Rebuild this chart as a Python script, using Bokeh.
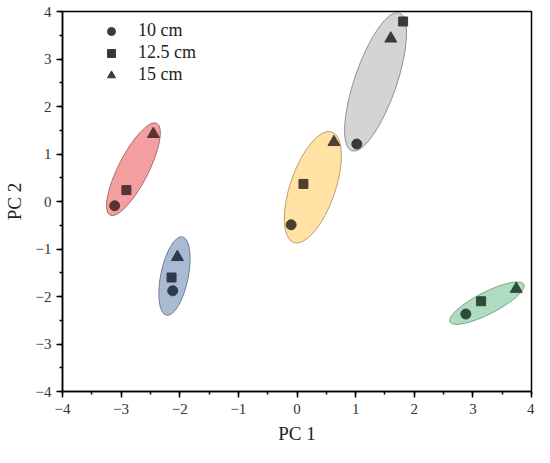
import math
from bokeh.plotting import figure
from bokeh.models import (ColumnDataSource, Range1d, SingleIntervalTicker, Legend, LegendItem)
from bokeh.embed import file_html
from bokeh.resources import INLINE

# ---- data ----
pc1_10cm = [-3.11, -2.12, -0.10, 1.02, 2.88]
pc2_10cm = [-0.09, -1.88, -0.49, 1.21, -2.37]
pc1_12_5cm = [-2.91, -2.14, 0.11, 1.81, 3.14]
pc2_12_5cm = [0.24, -1.60, 0.37, 3.79, -2.10]
pc1_15cm = [-2.45, -2.04, 0.63, 1.60, 3.74]
pc2_15cm = [1.42, -1.17, 1.25, 3.43, -1.84]

# confidence ellipses per group (center in data units, axes in screen px, angle in degrees)
ell_x = [-2.79, -2.09, 0.27, 1.34, 3.24]
ell_y = [0.68, -1.57, 0.30, 2.52, -2.14]
ell_long = [103, 80, 117, 146, 83]
ell_short = [30, 27.5, 45, 42, 22]
ell_angle = [63, 78.5, 71, 71, 27]

group_fill = ["#F4A0A0", "#A9BAD3", "#FFE2A4", "#D4D4D4", "#AEDCC0"]
group_edge = ["#A86C6C", "#6E7E98", "#B8A070", "#909090", "#78A88A"]
group_marker = ["#5C3232", "#2F3A4C", "#4D4030", "#3A3A3A", "#2D4A3A"]

series_labels = ["10 cm", "12.5 cm", "15 cm"]
tick_values = [-4, -3, -2, -1, 0, 1, 2, 3, 4]
tick_labels = ["\u22124", "\u22123", "\u22122", "\u22121", "0", "1", "2", "3", "4"]

FONT = "Liberation Serif"

p = figure(width=534, height=447, output_backend="svg", toolbar_location=None,
           x_range=Range1d(-4, 4), y_range=Range1d(-4, 4),
           min_border_left=57, min_border_right=3, min_border_top=11, min_border_bottom=56)
p.grid.visible = False
p.background_fill_color = "white"
p.border_fill_color = "white"
p.outline_line_color = "black"
p.outline_line_width = 1.5

esrc = ColumnDataSource(dict(x=ell_x, y=ell_y, w=ell_long, h=ell_short,
                             a=[math.radians(a) for a in ell_angle],
                             fill=group_fill, edge=group_edge))
p.ellipse(x="x", y="y", width="w", height="h", angle="a", source=esrc,
          width_units="screen", height_units="screen",
          fill_color="fill", line_color="edge", line_width=1)

markers = ["circle", "square", "triangle"]
sizes = [10, 9, 12]
xs = [pc1_10cm, pc1_12_5cm, pc1_15cm]
ys = [pc2_10cm, pc2_12_5cm, pc2_15cm]
items = []
for mk, sz, xv, yv, lab in zip(markers, sizes, xs, ys, series_labels):
    src = ColumnDataSource(dict(x=xv, y=yv, c=group_marker))
    r = p.scatter(x="x", y="y", source=src, marker=mk, size=sz, fill_color="c", line_color="c")
    items.append(LegendItem(label=lab, renderers=[r], index=3))

leg = Legend(items=items, location=(39, 306), padding=0, margin=0, spacing=1,
             glyph_width=20, glyph_height=20, label_height=20, label_standoff=17,
             label_text_font=FONT, label_text_font_size="18px", label_text_color="#222",
             border_line_color=None, background_fill_alpha=0)
p.add_layout(leg)

for ax, lab in ((p.xaxis[0], "PC 1"), (p.yaxis[0], "PC 2")):
    ax.ticker = SingleIntervalTicker(interval=1, num_minor_ticks=2)
    ax.major_label_overrides = {v: t for v, t in zip(tick_values, tick_labels)}
    ax.axis_label = lab
    ax.axis_label_text_font = FONT
    ax.axis_label_text_font_size = "19px"
    ax.axis_label_text_font_style = "normal"
    ax.axis_label_text_color = "#222"
    ax.major_label_text_font = FONT
    ax.major_label_text_font_size = "15px"
    ax.major_label_text_color = "#333"
    ax.axis_line_width = 1.5
    ax.major_tick_line_width = 1.5
    ax.minor_tick_line_width = 1.5
    ax.major_tick_in = 0
    ax.major_tick_out = 6
    ax.minor_tick_in = 0
    ax.minor_tick_out = 3
p.xaxis[0].major_label_standoff = 6
p.xaxis[0].axis_label_standoff = 6
p.yaxis[0].major_label_standoff = 5
p.yaxis[0].axis_label_standoff = 8

open("out.html", "w").write(file_html(p, INLINE))
